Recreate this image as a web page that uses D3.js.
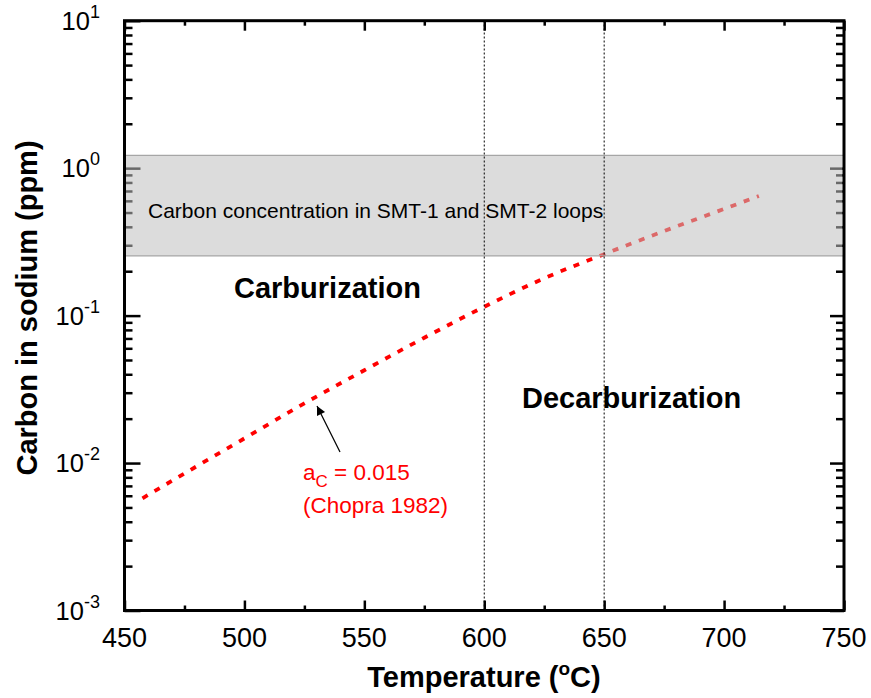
<!DOCTYPE html>
<html>
<head>
<meta charset="utf-8">
<script src="https://cdn.jsdelivr.net/npm/d3@7"></script>
<style>
  body { margin: 0; background: #fff; }
  text { font-family: "Liberation Sans", Arial, sans-serif; }
</style>
</head>
<body>
<div class="chart"></div>
<script>
// values
let temps  = [457.5, 475, 500, 525, 550, 575, 600, 625, 650, 675, 700, 714.5];
let carbon = [0.00577, 0.0085, 0.0147, 0.0254, 0.0426, 0.0708, 0.1148, 0.179, 0.261, 0.3745, 0.529, 0.647];
let bandRange = [0.254, 1.22];           // SMT-1 / SMT-2 loops
let refTemps = [600, 650];               // dotted verticals
let xMajor = [450, 500, 550, 600, 650, 700, 750];
let xMinor = [475, 525, 575, 625, 675, 725];
let yExp = [-3, -2, -1, 0, 1];

let width = 871, height = 698;
let margin = {top: 20.7, right: 27, bottom: 87.5, left: 124.5};

let svg = d3.select(".chart").append("svg")
    .attr("width", width)
    .attr("height", height);

let x = d3.scaleLinear().domain([450, 750]).range([margin.left, width - margin.right]);
let y = d3.scaleLog().domain([1e-3, 1e1]).range([height - margin.bottom, margin.top]);

let x0 = x.range()[0], x1 = x.range()[1];
let y0 = y.range()[0], y1 = y.range()[1];

// minor y ticks: 2..9 in each decade
let yMinor = [];
for (let e = -3; e < 1; e++) {
    for (let m = 2; m < 10; m++) yMinor.push(m * Math.pow(10, e));
}
let yMajorVals = yExp.map(e => Math.pow(10, e));

function tickGroup(axis, tr) {
    let g = svg.append("g").attr("transform", tr).call(axis);
    g.select(".domain").remove();
    g.selectAll("line").attr("stroke", "#000").attr("stroke-width", 2.5);
    return g;
}

// ticks, all inward
tickGroup(d3.axisBottom(x).tickValues(xMajor).tickSize(-10).tickFormat(""), "translate(0," + y0 + ")");
tickGroup(d3.axisBottom(x).tickValues(xMinor).tickSize(-5).tickFormat(""), "translate(0," + y0 + ")");
tickGroup(d3.axisTop(x).tickValues(xMajor).tickSize(-10).tickFormat(""), "translate(0," + y1 + ")");
tickGroup(d3.axisTop(x).tickValues(xMinor).tickSize(-5).tickFormat(""), "translate(0," + y1 + ")");
tickGroup(d3.axisLeft(y).tickValues(yMajorVals).tickSize(-16).tickFormat(""), "translate(" + x0 + ",0)");
tickGroup(d3.axisLeft(y).tickValues(yMinor).tickSize(-8).tickFormat(""), "translate(" + x0 + ",0)");
tickGroup(d3.axisRight(y).tickValues(yMajorVals).tickSize(-14).tickFormat(""), "translate(" + x1 + ",0)");
tickGroup(d3.axisRight(y).tickValues(yMinor).tickSize(-8).tickFormat(""), "translate(" + x1 + ",0)");

// curve
let line = d3.line()
    .x((d, i) => x(temps[i]))
    .y(d => y(d))
    .curve(d3.curveMonotoneX);

svg.append("path")
    .datum(carbon)
    .attr("d", line)
    .attr("fill", "none")
    .attr("stroke", "#ff0000")
    .attr("stroke-width", 3.8)
    .attr("stroke-dasharray", "6,8");

// shaded band (semi transparent, over curve and ticks)
svg.append("rect")
    .attr("x", x0 + 1.5)
    .attr("width", x1 - x0 - 3)
    .attr("y", y(bandRange[1]))
    .attr("height", y(bandRange[0]) - y(bandRange[1]))
    .attr("fill", "#c0c0c0")
    .attr("fill-opacity", 0.55);

bandRange.forEach(v => {
    svg.append("line")
        .attr("x1", x0).attr("x2", x1)
        .attr("y1", y(v)).attr("y2", y(v))
        .attr("stroke", "#a6a6a6")
        .attr("stroke-width", 1.2);
});

// dotted reference lines
svg.selectAll(".ref")
    .data(refTemps)
    .enter()
    .append("line")
    .attr("class", "ref")
    .attr("x1", d => x(d)).attr("x2", d => x(d))
    .attr("y1", y0).attr("y2", y1)
    .attr("stroke", "#000")
    .attr("stroke-width", 1)
    .attr("stroke-dasharray", "2,2");

// frame
svg.append("rect")
    .attr("x", x0).attr("y", y1)
    .attr("width", x1 - x0).attr("height", y0 - y1)
    .attr("fill", "none")
    .attr("stroke", "#000")
    .attr("stroke-width", 3);

// x tick labels
svg.selectAll(".xlab")
    .data(xMajor)
    .enter()
    .append("text")
    .attr("x", d => x(d))
    .attr("y", 647)
    .attr("text-anchor", "middle")
    .style("font-size", "27px")
    .text(d => d);

// y tick labels with superscripts
let ylab = svg.selectAll(".ylab")
    .data(yExp)
    .enter()
    .append("text")
    .attr("x", 100)
    .attr("y", d => y(Math.pow(10, d)) + 9)
    .attr("text-anchor", "end")
    .style("font-size", "25.5px");
ylab.append("tspan").text("10");
ylab.append("tspan")
    .attr("dy", -12)
    .style("font-size", "18px")
    .text(d => d);

// axis titles
let xt = svg.append("text")
    .attr("x", 484)
    .attr("y", 687)
    .attr("text-anchor", "middle")
    .style("font-size", "29px")
    .style("font-weight", "bold");
xt.append("tspan").text("Temperature (");
xt.append("tspan").attr("dy", -12).style("font-size", "19px").text("o");
xt.append("tspan").attr("dy", 12).text("C)");

svg.append("text")
    .attr("transform", "translate(37,308) rotate(-90)")
    .attr("text-anchor", "middle")
    .style("font-size", "29px")
    .style("font-weight", "bold")
    .text("Carbon in sodium (ppm)");

// annotations
svg.append("text")
    .attr("x", 148).attr("y", 218)
    .style("font-size", "21px")
    .text("Carbon concentration in SMT-1 and SMT-2 loops");

svg.append("text")
    .attr("x", 234).attr("y", 298)
    .style("font-size", "29px")
    .style("font-weight", "bold")
    .text("Carburization");

svg.append("text")
    .attr("x", 522).attr("y", 408)
    .style("font-size", "29px")
    .style("font-weight", "bold")
    .text("Decarburization");

svg.append("defs").append("marker")
    .attr("id", "arrow")
    .attr("viewBox", "0 0 10 10")
    .attr("refX", 10).attr("refY", 5)
    .attr("markerWidth", 13).attr("markerHeight", 9)
    .attr("markerUnits", "userSpaceOnUse")
    .attr("orient", "auto")
    .append("path")
    .attr("d", "M0,0 L10,5 L0,10 z")
    .attr("fill", "#000");

svg.append("line")
    .attr("x1", 340).attr("y1", 452)
    .attr("x2", 317).attr("y2", 406)
    .attr("stroke", "#000")
    .attr("stroke-width", 1.2)
    .attr("marker-end", "url(#arrow)");

let ac = svg.append("text")
    .attr("x", 303).attr("y", 480)
    .attr("fill", "#ff0000")
    .style("font-size", "22.5px");
ac.append("tspan").text("a");
ac.append("tspan").attr("dy", 7).style("font-size", "17px").text("C");
ac.append("tspan").attr("dy", -7).text(" = 0.015");

svg.append("text")
    .attr("x", 303).attr("y", 513)
    .attr("fill", "#ff0000")
    .style("font-size", "22.5px")
    .text("(Chopra 1982)");
</script>
</body>
</html>
